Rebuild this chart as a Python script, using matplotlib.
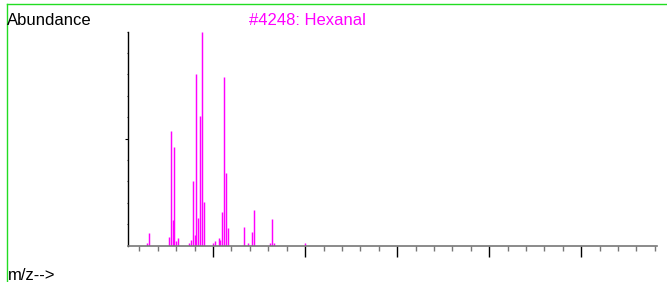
import matplotlib
matplotlib.use("Agg")
import matplotlib.pyplot as plt
from matplotlib.lines import Line2D

plt.rcParams['font.family'] = ['Liberation Sans', 'DejaVu Sans']

# m/z and relative abundance
mz = [14, 15, 26, 27, 28, 29, 30, 31, 37, 38, 39, 40, 41, 42, 43, 44, 45,
      50, 51, 53, 54, 55, 56, 57, 58, 67, 69, 71, 72, 81, 82, 83, 100]
abund = [1.0, 5.9, 4.2, 53.6, 12.1, 46.1, 2.3, 3.3, 1.1, 2.8, 30.1, 5.0, 80.4, 13.0, 60.6, 100, 20.5,
         1.2, 1.9, 3.7, 2.8, 15.8, 78.6, 33.7, 8.2, 8.5, 1.2, 6.1, 16.8, 1.4, 12.4, 1.4, 1.0]
title = "#4248: Hexanal"

W, H = 667, 282
fig = plt.figure(figsize=(W / 100, H / 100), dpi=100)
ax = fig.add_axes([128 / W, (H - 245.5) / H, (656.7 - 128) / W, (245.5 - 31.7) / H])

ax.vlines(mz, 0, abund, color='#ff00ff', linewidth=1.05)

ax.set_xlim(3.8, 291)
ax.set_ylim(0, 100)

for s in ['top', 'right']:
    ax.spines[s].set_visible(False)
ax.spines['left'].set_color('black')
ax.spines['left'].set_linewidth(1)
ax.spines['bottom'].set_color('#777777')
ax.spines['bottom'].set_linewidth(1.2)

ax.set_xticks([50, 100, 150, 200, 250])
ax.set_xticks(list(range(10, 291, 10)), minor=True)
ax.tick_params(axis='x', which='major', direction='out', length=8, width=1,
               color='black', labelbottom=False)
ax.tick_params(axis='x', which='minor', direction='out', length=3.5, width=1,
               color='#777777')
ax.set_yticks([50])
ax.set_yticks(list(range(10, 101, 10)), minor=True)
ax.tick_params(axis='y', which='major', direction='out', length=2.5, width=0.8,
               color='black', labelleft=False)
ax.tick_params(axis='y', which='minor', direction='out', length=1.0, width=0.8,
               color='#444444')

fig.text(7 / W, 1 - 25 / H, "Abundance", fontsize=12, color='black', ha='left', va='baseline')
fig.text(249 / W, 1 - 25 / H, title, fontsize=12, color='#ff00ff', ha='left', va='baseline')
fig.text(8 / W, 1 - 280.5 / H, "m/z-->", fontsize=12, color='black', ha='left', va='baseline')

# green frame at top and left
fig.add_artist(Line2D([6.5 / W, 1], [1 - 4 / H, 1 - 4 / H], color='#22dd22', linewidth=1,
                      transform=fig.transFigure))
fig.add_artist(Line2D([6.5 / W, 6.5 / W], [0, 1 - 4 / H], color='#22dd22', linewidth=1,
                      transform=fig.transFigure))

fig.savefig("out.png", dpi=100)
